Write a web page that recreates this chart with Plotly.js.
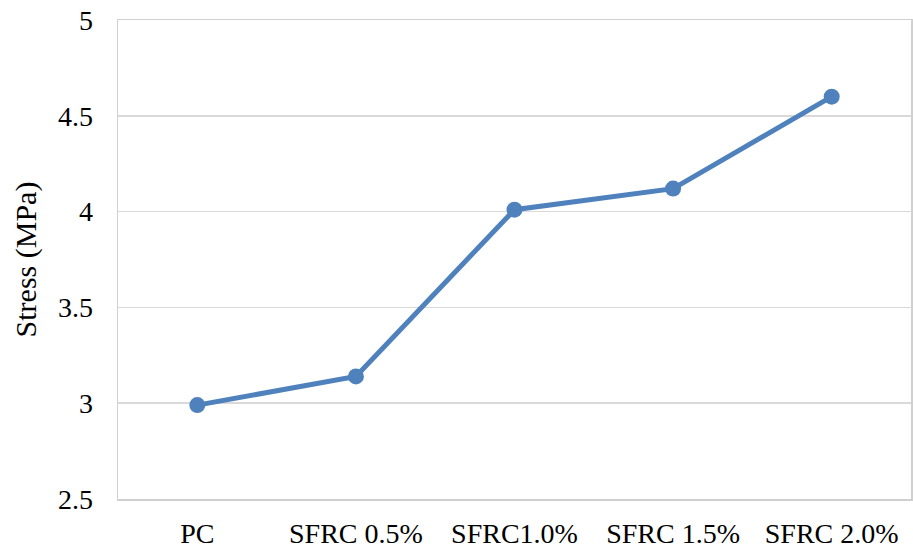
<!DOCTYPE html>
<html>
<head>
<meta charset="utf-8">
<script src="https://cdn.plot.ly/plotly-3.0.1.min.js"></script>
<style>html,body{margin:0;padding:0;background:#fff;}#chart{width:913px;height:551px;}</style>
</head>
<body>
<div id="chart"></div>
<script>
const categories = ["PC", "SFRC 0.5%", "SFRC1.0%", "SFRC 1.5%", "SFRC 2.0%"];
const stress = [2.99, 3.14, 4.01, 4.12, 4.60];
const yTitle = "Stress (MPa)";

const font = {family: "Liberation Serif", size: 28, color: "#000"};
const titleFont = {family: "Liberation Serif", size: 30, color: "#000"};

Plotly.newPlot("chart", [{
  x: categories,
  y: stress,
  type: "scatter",
  mode: "lines+markers",
  line: {color: "#4f81bd", width: 5},
  marker: {color: "#4f81bd", size: 16},
  hoverinfo: "skip"
}], {
  width: 913, height: 551,
  margin: {l: 118, r: 2, t: 20, b: 52, pad: 0},
  paper_bgcolor: "#fff", plot_bgcolor: "#fff",
  showlegend: false,
  font: font,
  xaxis: {
    type: "category",
    range: [-0.5, 4.5],
    showgrid: false,
    showline: true, linecolor: "#d0d0d0", linewidth: 1.5, mirror: true,
    ticks: "", ticklabelstandoff: 9,
    tickfont: font, zeroline: false
  },
  yaxis: {
    range: [2.5, 5], dtick: 0.5, tick0: 2.5,
    showgrid: true, gridcolor: "#d9d9d9", gridwidth: 1.5,
    showline: true, linecolor: "#d0d0d0", linewidth: 1.5, mirror: true,
    ticks: "", ticklabelstandoff: 18,
    tickfont: font, zeroline: false,
    title: {text: yTitle, font: titleFont, standoff: 12}
  }
}, {displayModeBar: false, staticPlot: true});
</script>
</body>
</html>
